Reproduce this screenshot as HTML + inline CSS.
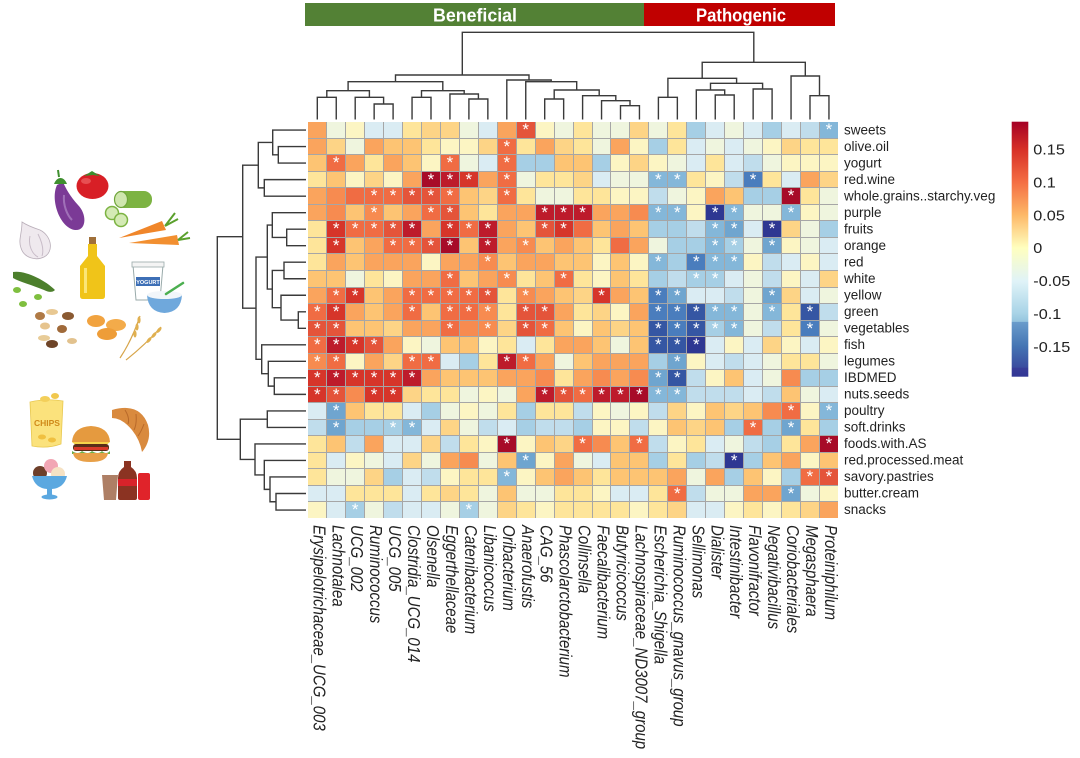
<!DOCTYPE html>
<html><head><meta charset="utf-8"><style>
html,body{margin:0;padding:0;background:#fff;}
body{width:1080px;height:758px;position:relative;overflow:hidden;font-family:"Liberation Sans",Arial,sans-serif;}
svg{position:absolute;left:0;top:0;}
.hm{position:absolute;left:307.8px;top:121.8px;width:530.6px;height:396.5px;display:grid;grid-template-columns:repeat(28,1fr);grid-template-rows:repeat(24,1fr);gap:1px;padding:0.5px;box-sizing:border-box;background:#a6a6a6;}
.hm i{font-style:normal;color:#fff;text-align:center;font:17px/15.52px "Liberation Sans",Arial,sans-serif;overflow:hidden;}
.D{background:#a70b28}.d{background:#bd1b2b}.R{background:#d6352a}.r{background:#e4543a}
.O{background:#f06c43}.P{background:#f78b50}.o{background:#faa45d}.l{background:#fdc473}
.L{background:#fdd486}.y{background:#fee59a}.p{background:#fcf5c3}.g{background:#eff5de}
.b{background:#daecf3}.c{background:#c0ddec}.B{background:#a6cfe5}.m{background:#84b7d9}
.M{background:#6fa5cf}.N{background:#4a7dbd}.K{background:#3556a3}.Z{background:#2e3792}
</style></head><body>
<svg width="1080" height="758" viewBox="0 0 1080 758" xmlns="http://www.w3.org/2000/svg">
<defs>
<linearGradient id="lg" x1="0" y1="0" x2="0" y2="1">
<stop offset="0" stop-color="#a50026"/>
<stop offset="0.11" stop-color="#d73027"/>
<stop offset="0.235" stop-color="#f46d43"/>
<stop offset="0.365" stop-color="#fdb867"/>
<stop offset="0.495" stop-color="#ffffbf"/>
<stop offset="0.625" stop-color="#e0f3f8"/>
<stop offset="0.75" stop-color="#a9d4e7"/>
<stop offset="0.784" stop-color="#95c4de"/>
<stop offset="0.786" stop-color="#6a9ccb"/>
<stop offset="0.88" stop-color="#4575b4"/>
<stop offset="0.963" stop-color="#3a4c9f"/>
<stop offset="0.966" stop-color="#383c98"/>
<stop offset="1" stop-color="#313695"/>
</linearGradient>
</defs>
<!-- header bars -->
<rect x="305" y="3" width="339" height="23" fill="#538135"/>
<rect x="644" y="3" width="191" height="23" fill="#c00000"/>
<text x="475" y="21.5" fill="#fff" font-size="18" font-weight="bold" text-anchor="middle" textLength="84" lengthAdjust="spacingAndGlyphs">Beneficial</text>
<text x="741" y="21.5" fill="#fff" font-size="18" font-weight="bold" text-anchor="middle" textLength="90" lengthAdjust="spacingAndGlyphs">Pathogenic</text>
<!-- top dendrogram -->
<g fill="none" stroke="#3a3a3a" stroke-width="1.4">
<path d="M317.3 119.5V97.3H336.25V119.5"/>
<path d="M374.15 119.5V104H393.1V119.5"/>
<path d="M355.2 119.5V97.3H383.6V104"/>
<path d="M326.8 97.3V90.7H369.4V97.3"/>
<path d="M412.05 119.5V97.3H431V119.5"/>
<path d="M468.9 119.5V99H487.85V119.5"/>
<path d="M449.95 119.5V94H478.4V99"/>
<path d="M421.5 97.3V90.7H464.2V94"/>
<path d="M348.1 90.7V81.7H442.8V90.7"/>
<path d="M544.7 119.5V99H563.65V119.5"/>
<path d="M620.5 119.5V105.7H639.45V119.5"/>
<path d="M601.55 119.5V100.7H630V105.7"/>
<path d="M582.6 119.5V95.7H615.8V100.7"/>
<path d="M554.2 99V90H599.2V95.7"/>
<path d="M525.75 119.5V81.7H576.7V90"/>
<path d="M506.8 119.5V80H551.2V81.7"/>
<path d="M395.5 81.7V75H529V80"/>
<path d="M658.4 119.5V97.3H677.35V119.5"/>
<path d="M715.25 119.5V95H734.2V119.5"/>
<path d="M696.3 119.5V90H724.7V95"/>
<path d="M753.15 119.5V89H772.1V119.5"/>
<path d="M710.5 90V83.3H762.6V89"/>
<path d="M667.9 97.3V78.3H736.6V83.3"/>
<path d="M810 119.5V95.7H828.95V119.5"/>
<path d="M791.05 119.5V76H819.5V95.7"/>
<path d="M702.2 78.3V62.3H805.3V76"/>
<path d="M462.3 75V32.3H753.8V62.3"/>
</g>
<!-- left dendrogram -->
<g fill="none" stroke="#3a3a3a" stroke-width="1.4">
<path d="M306 146.58H278.3V163.1H306"/>
<path d="M306 130.06H272.7V154.84H278.3"/>
<path d="M306 179.62H264.3V196.14H306"/>
<path d="M272.7 142.45H258.3V187.88H264.3"/>
<path d="M306 229.18H286.7V245.7H306"/>
<path d="M306 212.66H272.3V237.44H286.7"/>
<path d="M306 262.22H284V278.74H306"/>
<path d="M306 311.78H298.3V328.3H306"/>
<path d="M306 295.26H281V320.04H298.3"/>
<path d="M284 270.48H272.3V307.65H281"/>
<path d="M272.3 225.05H267.3V289.07H272.3"/>
<path d="M306 377.86H274.3V394.38H306"/>
<path d="M306 361.34H268.3V386.12H274.3"/>
<path d="M306 344.82H261.7V373.73H268.3"/>
<path d="M267.3 257.06H256V359.28H261.7"/>
<path d="M258.3 165.17H242.7V308.17H256"/>
<path d="M306 410.9H267.3V427.42H306"/>
<path d="M306 493.5H276V510.02H306"/>
<path d="M306 476.98H270V501.76H276"/>
<path d="M306 460.46H264.3V489.37H270"/>
<path d="M306 443.94H255V474.92H264.3"/>
<path d="M267.3 419.16H240.3V459.43H255"/>
<path d="M242.7 236.67H217.3V439.3H240.3"/>
</g>
<!-- row labels -->
<g font-size="13.5" fill="#222">
<text x="844" y="134.26">sweets</text>
<text x="844" y="150.78">olive.oil</text>
<text x="844" y="167.3">yogurt</text>
<text x="844" y="183.82">red.wine</text>
<text x="844" y="200.34">whole.grains..starchy.veg</text>
<text x="844" y="216.86">purple</text>
<text x="844" y="233.38">fruits</text>
<text x="844" y="249.9">orange</text>
<text x="844" y="266.42">red</text>
<text x="844" y="282.94">white</text>
<text x="844" y="299.46">yellow</text>
<text x="844" y="315.98">green</text>
<text x="844" y="332.5">vegetables</text>
<text x="844" y="349.02">fish</text>
<text x="844" y="365.54">legumes</text>
<text x="844" y="382.06">IBDMED</text>
<text x="844" y="398.58">nuts.seeds</text>
<text x="844" y="415.1">poultry</text>
<text x="844" y="431.62">soft.drinks</text>
<text x="844" y="448.14">foods.with.AS</text>
<text x="844" y="464.66">red.processed.meat</text>
<text x="844" y="481.18">savory.pastries</text>
<text x="844" y="497.7">butter.cream</text>
<text x="844" y="514.22">snacks</text>
</g>
<!-- column labels -->
<g font-size="15" font-style="italic" fill="#222">
<text transform="translate(313.3,525) rotate(90) scale(1,1.147)">Erysipelotrichaceae_UCG_003</text>
<text transform="translate(332.25,525) rotate(90) scale(1,1.147)">Lachnotalea</text>
<text transform="translate(351.2,525) rotate(90) scale(1,1.147)">UCG_002</text>
<text transform="translate(370.15,525) rotate(90) scale(1,1.147)">Ruminococcus</text>
<text transform="translate(389.1,525) rotate(90) scale(1,1.147)">UCG_005</text>
<text transform="translate(408.05,525) rotate(90) scale(1,1.147)">Clostridia_UCG_014</text>
<text transform="translate(427,525) rotate(90) scale(1,1.147)">Olsenella</text>
<text transform="translate(445.95,525) rotate(90) scale(1,1.147)">Eggerthellaceae</text>
<text transform="translate(464.9,525) rotate(90) scale(1,1.147)">Catenibacterium</text>
<text transform="translate(483.85,525) rotate(90) scale(1,1.147)">Libanicoccus</text>
<text transform="translate(502.8,525) rotate(90) scale(1,1.147)">Oribacterium</text>
<text transform="translate(521.75,525) rotate(90) scale(1,1.147)">Anaerofustis</text>
<text transform="translate(540.7,525) rotate(90) scale(1,1.147)">CAG_56</text>
<text transform="translate(559.65,525) rotate(90) scale(1,1.147)">Phascolarctobacterium</text>
<text transform="translate(578.6,525) rotate(90) scale(1,1.147)">Collinsella</text>
<text transform="translate(597.55,525) rotate(90) scale(1,1.147)">Faecalibacterium</text>
<text transform="translate(616.5,525) rotate(90) scale(1,1.147)">Butyricicoccus</text>
<text transform="translate(635.45,525) rotate(90) scale(1,1.147)">Lachnospiraceae_ND3007_group</text>
<text transform="translate(654.4,525) rotate(90) scale(1,1.147)">Escherichia_Shigella</text>
<text transform="translate(673.35,525) rotate(90) scale(1,1.147)">Ruminococcus_gnavus_group</text>
<text transform="translate(692.3,525) rotate(90) scale(1,1.147)">Sellimonas</text>
<text transform="translate(711.25,525) rotate(90) scale(1,1.147)">Dialister</text>
<text transform="translate(730.2,525) rotate(90) scale(1,1.147)">Intestinibacter</text>
<text transform="translate(749.15,525) rotate(90) scale(1,1.147)">Flavonifractor</text>
<text transform="translate(768.1,525) rotate(90) scale(1,1.147)">Negativibacillus</text>
<text transform="translate(787.05,525) rotate(90) scale(1,1.147)">Coriobacteriales</text>
<text transform="translate(806,525) rotate(90) scale(1,1.147)">Megasphaera</text>
<text transform="translate(824.95,525) rotate(90) scale(1,1.147)">Proteiniphilum</text>
</g>
<!-- legend -->
<rect x="1011.7" y="121.7" width="16.6" height="255" fill="url(#lg)"/>
<g font-size="15" fill="#222">
<text transform="translate(1033.3,154.5) scale(1.08,1)">0.15</text>
<text transform="translate(1033.3,187.4) scale(1.08,1)">0.1</text>
<text transform="translate(1033.3,220.3) scale(1.08,1)">0.05</text>
<text transform="translate(1033.3,253.2) scale(1.08,1)">0</text>
<text transform="translate(1033.3,286.1) scale(1.08,1)">-0.05</text>
<text transform="translate(1033.3,319) scale(1.08,1)">-0.1</text>
<text transform="translate(1033.3,351.9) scale(1.08,1)">-0.15</text>
</g>
<!-- healthy food icons -->
<g>
<ellipse cx="92.5" cy="186" rx="16" ry="13" fill="#d81f26"/>
<ellipse cx="86" cy="181" rx="5" ry="3" fill="#f27070" opacity=".6"/>
<path d="M84 176 L92 171 L100 176 L93 175 Z" fill="#3c8d2f"/>
<path d="M57 185 C50 200 60 228 75 230 C87 231 87 214 78 205 C70 196 66 189 63 182 Z" fill="#7b3a96"/>
<path d="M64 195 C63 205 67 215 72 220" stroke="#a070b8" stroke-width="2" fill="none"/>
<path d="M54 184 C57 176 64 176 67 184 Z" fill="#3f8f2f"/>
<path d="M59 177 L58 170" stroke="#3f8f2f" stroke-width="2"/>
<rect x="116" y="191" width="36" height="17" rx="8" fill="#7cb342"/>
<ellipse cx="121" cy="199.5" rx="6.5" ry="8" fill="#cfe6ae" stroke="#6fa53a" stroke-width="1.2"/>
<circle cx="112" cy="213" r="6.5" fill="#d4eab5" stroke="#7cb342" stroke-width="1.5"/>
<circle cx="121" cy="220" r="6.5" fill="#d4eab5" stroke="#7cb342" stroke-width="1.5"/>
<path d="M22 222 C28 226 34 228 40 230 C52 236 54 252 44 257 C36 261 24 258 21 248 C18 240 22 234 22 222 Z" fill="#efe9ee" stroke="#b9aeb9" stroke-width=".8"/>
<path d="M30 236 C28 245 32 254 38 257 M38 234 C42 242 44 250 42 256" stroke="#c8bcc8" fill="none"/>
<path d="M119 238 L162 221 L166 230 Z" fill="#f0862a"/>
<path d="M129 243 L177 235 L179 245 Z" fill="#f28f30"/>
<path d="M165 226 L178 219 M165 226 L175 213 M178 240 L190 238 M178 240 L188 232" stroke="#5aa02c" stroke-width="2" fill="none"/>
<rect x="89" y="237" width="7" height="7" fill="#a0703a"/>
<path d="M88 244 H97 V256 L105 266 V296 Q105 299 102 299 H83 Q80 299 80 296 V266 L88 256 Z" fill="#f0c419"/>
<rect x="84" y="268" width="3" height="25" fill="#fff3a0" opacity=".7"/>
<path d="M133 265 H163 L160 300 H136 Z" fill="#fff" stroke="#99aaaa" stroke-width="1"/>
<rect x="132" y="262" width="32" height="5" fill="#f4f4f4" stroke="#99aaaa" stroke-width=".8"/>
<rect x="136" y="277" width="24" height="9" fill="#3d6fb6"/>
<text x="148" y="284" font-size="5.5" font-weight="bold" fill="#fff" text-anchor="middle">YOGURT</text>
<path d="M147 295 H182 Q181 312 164.5 313 Q148 312 147 295 Z" fill="#6fa8dc"/>
<ellipse cx="164.5" cy="295" rx="17.5" ry="4" fill="#f2f6fa"/>
<path d="M166 294 L183 283" stroke="#4caf50" stroke-width="2.5" stroke-linecap="round"/>
<path d="M13 272 C25 270 45 280 55 290 C52 293 48 292 44 290 C32 285 20 282 13 278 Z" fill="#4c7f2c"/>
<ellipse cx="17" cy="290" rx="4" ry="3" fill="#7fbf3f"/>
<ellipse cx="38" cy="297" rx="4" ry="3" fill="#7fbf3f"/>
<ellipse cx="23" cy="304" rx="4" ry="3" fill="#7fbf3f"/>
<ellipse cx="40" cy="316" rx="5" ry="4" fill="#b07a45"/>
<ellipse cx="52" cy="312" rx="6" ry="3" fill="#e8c892"/>
<ellipse cx="68" cy="316" rx="6" ry="4" fill="#8a5a32"/>
<ellipse cx="45" cy="326" rx="5" ry="3.5" fill="#e6c48e"/>
<ellipse cx="62" cy="329" rx="5" ry="4" fill="#a06a3a"/>
<ellipse cx="44" cy="338" rx="6" ry="3" fill="#e8cc98"/>
<ellipse cx="52" cy="344" rx="6" ry="4" fill="#6e4428"/>
<ellipse cx="72" cy="341" rx="5" ry="3" fill="#e2c28e"/>
<ellipse cx="96" cy="321" rx="9" ry="6" fill="#f1a340"/>
<ellipse cx="116" cy="325" rx="10" ry="6" fill="#f3ab4a"/>
<ellipse cx="107" cy="334" rx="10" ry="6" fill="#ee9d38"/>
<path d="M120 358 Q132 340 140 316 M126 360 Q145 345 161 327" stroke="#d7a54a" fill="none" stroke-width="1.2"/>
<g fill="#e0b050">
<ellipse cx="139" cy="320" rx="1.6" ry="3.5"/><ellipse cx="137" cy="327" rx="1.6" ry="3.5"/><ellipse cx="135" cy="334" rx="1.6" ry="3.5"/>
<ellipse cx="159" cy="330" rx="1.6" ry="3.5" transform="rotate(40 159 330)"/><ellipse cx="154" cy="335" rx="1.6" ry="3.5" transform="rotate(40 154 335)"/><ellipse cx="149" cy="340" rx="1.6" ry="3.5" transform="rotate(40 149 340)"/>
</g>
</g>
<!-- unhealthy food icons -->
<g>
<path d="M30 402 Q47 398 63 401 L61 444 Q47 449 32 446 Z" fill="#fbe27c" stroke="#e8c850" stroke-width=".8"/>
<ellipse cx="45" cy="399" rx="5" ry="3" fill="#f3cf5a"/>
<ellipse cx="55" cy="396" rx="4" ry="3" fill="#f1c84e"/>
<text x="47" y="426" font-size="8.5" font-weight="bold" fill="#d08a1a" text-anchor="middle">CHIPS</text>
<ellipse cx="42" cy="437" rx="4" ry="2.5" fill="#f0c040"/>
<ellipse cx="52" cy="440" rx="4" ry="2.5" fill="#f0c040"/>
<path d="M72 442 Q73 427 91 426 Q109 427 110 442 Z" fill="#e59a3f"/>
<path d="M72 442 H110 L104 447 H78 Z" fill="#f6d34a"/>
<rect x="73" y="444" width="36" height="7" rx="3" fill="#5a2e1a"/>
<rect x="74" y="447" width="34" height="3" fill="#d83a2a"/>
<path d="M72 451 Q78 455 82 451 Q88 455 92 451 Q98 455 102 451 Q106 455 110 451 V454 H72 Z" fill="#6ab04c"/>
<path d="M73 453 H108 Q107 462 90.5 462 Q74 462 73 453 Z" fill="#e8a048"/>
<path d="M112 410 Q140 402 148 425 Q152 440 142 452 Q140 440 132 430 Q122 418 112 418 Z" fill="#d98a3e"/>
<path d="M125 410 Q130 418 128 424 M136 414 Q137 424 134 430 M144 424 Q141 432 138 436" stroke="#b8692a" fill="none" stroke-width="1"/>
<circle cx="40" cy="473" r="7" fill="#6e3f2a"/>
<circle cx="51" cy="466" r="7" fill="#f2a6b4"/>
<circle cx="58" cy="474" r="7" fill="#f6e2c4"/>
<path d="M32 476 H67 Q64 488 52 489 H47 Q35 488 32 476 Z" fill="#5ba8e0"/>
<rect x="47" y="488" width="5" height="7" fill="#5ba8e0"/>
<ellipse cx="49.5" cy="497" rx="8" ry="2.5" fill="#5ba8e0"/>
<path d="M102 475 H118 L116 500 H104 Z" fill="#a0684a" opacity=".85"/>
<path d="M124 461 H131 V467 Q137 471 137 478 V498 Q137 500 135 500 H120 Q118 500 118 498 V478 Q118 471 124 467 Z" fill="#8b3322"/>
<rect x="118" y="479" width="19" height="7" fill="#d8232a"/>
<rect x="138" y="473" width="12" height="27" rx="2" fill="#e0232a"/>
</g>
</svg>
<div class="hm">
<i class="o"></i><i class="g"></i><i class="p"></i><i class="b"></i><i class="b"></i><i class="y"></i><i class="L"></i><i class="L"></i><i class="g"></i><i class="b"></i><i class="o"></i><i class="r">*</i><i class="p"></i><i class="g"></i><i class="y"></i><i class="g"></i><i class="g"></i><i class="L"></i><i class="g"></i><i class="y"></i><i class="B"></i><i class="b"></i><i class="g"></i><i class="b"></i><i class="B"></i><i class="b"></i><i class="c"></i><i class="m">*</i>
<i class="o"></i><i class="L"></i><i class="g"></i><i class="o"></i><i class="l"></i><i class="l"></i><i class="y"></i><i class="p"></i><i class="p"></i><i class="L"></i><i class="O">*</i><i class="y"></i><i class="o"></i><i class="L"></i><i class="y"></i><i class="g"></i><i class="o"></i><i class="p"></i><i class="B"></i><i class="y"></i><i class="b"></i><i class="g"></i><i class="b"></i><i class="g"></i><i class="p"></i><i class="L"></i><i class="y"></i><i class="y"></i>
<i class="l"></i><i class="O">*</i><i class="o"></i><i class="y"></i><i class="o"></i><i class="l"></i><i class="p"></i><i class="O">*</i><i class="g"></i><i class="b"></i><i class="O">*</i><i class="B"></i><i class="B"></i><i class="l"></i><i class="l"></i><i class="B"></i><i class="p"></i><i class="L"></i><i class="p"></i><i class="g"></i><i class="b"></i><i class="y"></i><i class="b"></i><i class="c"></i><i class="g"></i><i class="p"></i><i class="p"></i><i class="p"></i>
<i class="y"></i><i class="l"></i><i class="p"></i><i class="L"></i><i class="p"></i><i class="o"></i><i class="D">*</i><i class="d">*</i><i class="R">*</i><i class="o"></i><i class="O">*</i><i class="g"></i><i class="y"></i><i class="y"></i><i class="L"></i><i class="b"></i><i class="g"></i><i class="g"></i><i class="m">*</i><i class="m">*</i><i class="y"></i><i class="p"></i><i class="c"></i><i class="N">*</i><i class="y"></i><i class="b"></i><i class="o"></i><i class="L"></i>
<i class="o"></i><i class="P"></i><i class="O"></i><i class="O">*</i><i class="O">*</i><i class="r">*</i><i class="r">*</i><i class="O">*</i><i class="l"></i><i class="L"></i><i class="O">*</i><i class="y"></i><i class="g"></i><i class="g"></i><i class="y"></i><i class="y"></i><i class="p"></i><i class="p"></i><i class="c"></i><i class="g"></i><i class="p"></i><i class="o"></i><i class="l"></i><i class="B"></i><i class="B"></i><i class="D">*</i><i class="y"></i><i class="g"></i>
<i class="o"></i><i class="P"></i><i class="l"></i><i class="P">*</i><i class="l"></i><i class="o"></i><i class="O">*</i><i class="r">*</i><i class="l"></i><i class="y"></i><i class="o"></i><i class="o"></i><i class="d">*</i><i class="d">*</i><i class="d">*</i><i class="o"></i><i class="o"></i><i class="P"></i><i class="m">*</i><i class="m">*</i><i class="p"></i><i class="Z">*</i><i class="m">*</i><i class="g"></i><i class="g"></i><i class="m">*</i><i class="p"></i><i class="g"></i>
<i class="y"></i><i class="R">*</i><i class="O">*</i><i class="O">*</i><i class="r">*</i><i class="d">*</i><i class="o"></i><i class="R">*</i><i class="O">*</i><i class="d">*</i><i class="o"></i><i class="l"></i><i class="r">*</i><i class="R">*</i><i class="O"></i><i class="l"></i><i class="o"></i><i class="l"></i><i class="B"></i><i class="B"></i><i class="c"></i><i class="m">*</i><i class="M">*</i><i class="b"></i><i class="Z">*</i><i class="L"></i><i class="g"></i><i class="B"></i>
<i class="y"></i><i class="R">*</i><i class="l"></i><i class="o"></i><i class="O">*</i><i class="O">*</i><i class="r">*</i><i class="D">*</i><i class="l"></i><i class="d">*</i><i class="o"></i><i class="P">*</i><i class="l"></i><i class="o"></i><i class="l"></i><i class="y"></i><i class="O"></i><i class="o"></i><i class="g"></i><i class="B"></i><i class="B"></i><i class="m">*</i><i class="B">*</i><i class="g"></i><i class="M">*</i><i class="p"></i><i class="g"></i><i class="b"></i>
<i class="y"></i><i class="o"></i><i class="l"></i><i class="o"></i><i class="o"></i><i class="o"></i><i class="p"></i><i class="o"></i><i class="o"></i><i class="P">*</i><i class="l"></i><i class="o"></i><i class="o"></i><i class="l"></i><i class="l"></i><i class="p"></i><i class="l"></i><i class="p"></i><i class="m">*</i><i class="B"></i><i class="N">*</i><i class="m">*</i><i class="m">*</i><i class="p"></i><i class="c"></i><i class="b"></i><i class="p"></i><i class="b"></i>
<i class="l"></i><i class="l"></i><i class="g"></i><i class="y"></i><i class="p"></i><i class="o"></i><i class="o"></i><i class="O">*</i><i class="l"></i><i class="o"></i><i class="P">*</i><i class="y"></i><i class="l"></i><i class="O">*</i><i class="y"></i><i class="p"></i><i class="l"></i><i class="y"></i><i class="B"></i><i class="c"></i><i class="B">*</i><i class="B">*</i><i class="b"></i><i class="g"></i><i class="c"></i><i class="p"></i><i class="b"></i><i class="L"></i>
<i class="o"></i><i class="O">*</i><i class="R">*</i><i class="l"></i><i class="o"></i><i class="O">*</i><i class="O">*</i><i class="O">*</i><i class="O">*</i><i class="r">*</i><i class="y"></i><i class="P">*</i><i class="o"></i><i class="l"></i><i class="L"></i><i class="R">*</i><i class="o"></i><i class="l"></i><i class="N">*</i><i class="M">*</i><i class="b"></i><i class="b"></i><i class="c"></i><i class="g"></i><i class="M">*</i><i class="L"></i><i class="b"></i><i class="g"></i>
<i class="O">*</i><i class="R">*</i><i class="o"></i><i class="l"></i><i class="o"></i><i class="O">*</i><i class="l"></i><i class="O">*</i><i class="O">*</i><i class="P">*</i><i class="y"></i><i class="r">*</i><i class="r">*</i><i class="o"></i><i class="y"></i><i class="L"></i><i class="p"></i><i class="o"></i><i class="N">*</i><i class="N">*</i><i class="K">*</i><i class="m">*</i><i class="m">*</i><i class="g"></i><i class="m">*</i><i class="y"></i><i class="K">*</i><i class="c"></i>
<i class="r">*</i><i class="r">*</i><i class="l"></i><i class="l"></i><i class="L"></i><i class="o"></i><i class="o"></i><i class="O">*</i><i class="P"></i><i class="P">*</i><i class="L"></i><i class="r">*</i><i class="O">*</i><i class="l"></i><i class="p"></i><i class="l"></i><i class="L"></i><i class="l"></i><i class="K">*</i><i class="N">*</i><i class="K">*</i><i class="B">*</i><i class="m">*</i><i class="g"></i><i class="c"></i><i class="y"></i><i class="N">*</i><i class="g"></i>
<i class="O">*</i><i class="d">*</i><i class="R">*</i><i class="r">*</i><i class="o"></i><i class="p"></i><i class="g"></i><i class="l"></i><i class="l"></i><i class="p"></i><i class="y"></i><i class="b"></i><i class="y"></i><i class="o"></i><i class="o"></i><i class="l"></i><i class="g"></i><i class="l"></i><i class="K">*</i><i class="K">*</i><i class="Z">*</i><i class="b"></i><i class="p"></i><i class="b"></i><i class="L"></i><i class="p"></i><i class="b"></i><i class="p"></i>
<i class="P">*</i><i class="O">*</i><i class="p"></i><i class="o"></i><i class="L"></i><i class="O">*</i><i class="O">*</i><i class="b"></i><i class="B"></i><i class="y"></i><i class="d">*</i><i class="O">*</i><i class="o"></i><i class="g"></i><i class="l"></i><i class="o"></i><i class="o"></i><i class="o"></i><i class="B"></i><i class="M">*</i><i class="p"></i><i class="b"></i><i class="c"></i><i class="b"></i><i class="g"></i><i class="y"></i><i class="y"></i><i class="g"></i>
<i class="R">*</i><i class="d">*</i><i class="R">*</i><i class="R">*</i><i class="R">*</i><i class="d">*</i><i class="o"></i><i class="l"></i><i class="l"></i><i class="l"></i><i class="o"></i><i class="o"></i><i class="P"></i><i class="y"></i><i class="o"></i><i class="P"></i><i class="o"></i><i class="P"></i><i class="M">*</i><i class="K">*</i><i class="c"></i><i class="p"></i><i class="l"></i><i class="b"></i><i class="g"></i><i class="P"></i><i class="B"></i><i class="B"></i>
<i class="R">*</i><i class="r">*</i><i class="P"></i><i class="R">*</i><i class="R">*</i><i class="L"></i><i class="y"></i><i class="y"></i><i class="g"></i><i class="p"></i><i class="g"></i><i class="o"></i><i class="d">*</i><i class="r">*</i><i class="O">*</i><i class="d">*</i><i class="d">*</i><i class="D">*</i><i class="m">*</i><i class="m">*</i><i class="c"></i><i class="c"></i><i class="c"></i><i class="b"></i><i class="c"></i><i class="l"></i><i class="g"></i><i class="b"></i>
<i class="b"></i><i class="M">*</i><i class="l"></i><i class="y"></i><i class="y"></i><i class="b"></i><i class="B"></i><i class="g"></i><i class="p"></i><i class="g"></i><i class="y"></i><i class="B"></i><i class="y"></i><i class="y"></i><i class="c"></i><i class="p"></i><i class="g"></i><i class="p"></i><i class="c"></i><i class="L"></i><i class="p"></i><i class="l"></i><i class="L"></i><i class="l"></i><i class="P"></i><i class="O">*</i><i class="p"></i><i class="m">*</i>
<i class="c"></i><i class="M">*</i><i class="B"></i><i class="B"></i><i class="B">*</i><i class="m">*</i><i class="b"></i><i class="L"></i><i class="g"></i><i class="c"></i><i class="b"></i><i class="B"></i><i class="c"></i><i class="c"></i><i class="B"></i><i class="p"></i><i class="p"></i><i class="c"></i><i class="p"></i><i class="l"></i><i class="L"></i><i class="l"></i><i class="B"></i><i class="O">*</i><i class="B"></i><i class="M">*</i><i class="y"></i><i class="B"></i>
<i class="y"></i><i class="l"></i><i class="c"></i><i class="o"></i><i class="b"></i><i class="b"></i><i class="L"></i><i class="c"></i><i class="y"></i><i class="p"></i><i class="D">*</i><i class="p"></i><i class="l"></i><i class="L"></i><i class="O">*</i><i class="P"></i><i class="l"></i><i class="O">*</i><i class="c"></i><i class="p"></i><i class="y"></i><i class="b"></i><i class="g"></i><i class="c"></i><i class="B"></i><i class="y"></i><i class="o"></i><i class="D">*</i>
<i class="y"></i><i class="b"></i><i class="p"></i><i class="g"></i><i class="b"></i><i class="L"></i><i class="g"></i><i class="o"></i><i class="P"></i><i class="g"></i><i class="l"></i><i class="M">*</i><i class="p"></i><i class="o"></i><i class="g"></i><i class="b"></i><i class="l"></i><i class="l"></i><i class="B"></i><i class="y"></i><i class="B"></i><i class="c"></i><i class="Z">*</i><i class="B"></i><i class="l"></i><i class="o"></i><i class="p"></i><i class="l"></i>
<i class="y"></i><i class="g"></i><i class="g"></i><i class="L"></i><i class="B"></i><i class="b"></i><i class="c"></i><i class="p"></i><i class="y"></i><i class="y"></i><i class="m">*</i><i class="p"></i><i class="l"></i><i class="o"></i><i class="l"></i><i class="y"></i><i class="l"></i><i class="l"></i><i class="l"></i><i class="o"></i><i class="g"></i><i class="o"></i><i class="B"></i><i class="l"></i><i class="p"></i><i class="B"></i><i class="O">*</i><i class="r">*</i>
<i class="b"></i><i class="b"></i><i class="y"></i><i class="y"></i><i class="y"></i><i class="b"></i><i class="y"></i><i class="L"></i><i class="y"></i><i class="g"></i><i class="l"></i><i class="g"></i><i class="g"></i><i class="y"></i><i class="y"></i><i class="p"></i><i class="b"></i><i class="b"></i><i class="y"></i><i class="O">*</i><i class="c"></i><i class="g"></i><i class="g"></i><i class="o"></i><i class="o"></i><i class="M">*</i><i class="g"></i><i class="p"></i>
<i class="p"></i><i class="b"></i><i class="B">*</i><i class="g"></i><i class="c"></i><i class="b"></i><i class="b"></i><i class="g"></i><i class="B">*</i><i class="g"></i><i class="L"></i><i class="y"></i><i class="p"></i><i class="y"></i><i class="y"></i><i class="y"></i><i class="y"></i><i class="p"></i><i class="y"></i><i class="L"></i><i class="b"></i><i class="b"></i><i class="p"></i><i class="y"></i><i class="p"></i><i class="y"></i><i class="L"></i><i class="o"></i>
</div>
</body></html>
